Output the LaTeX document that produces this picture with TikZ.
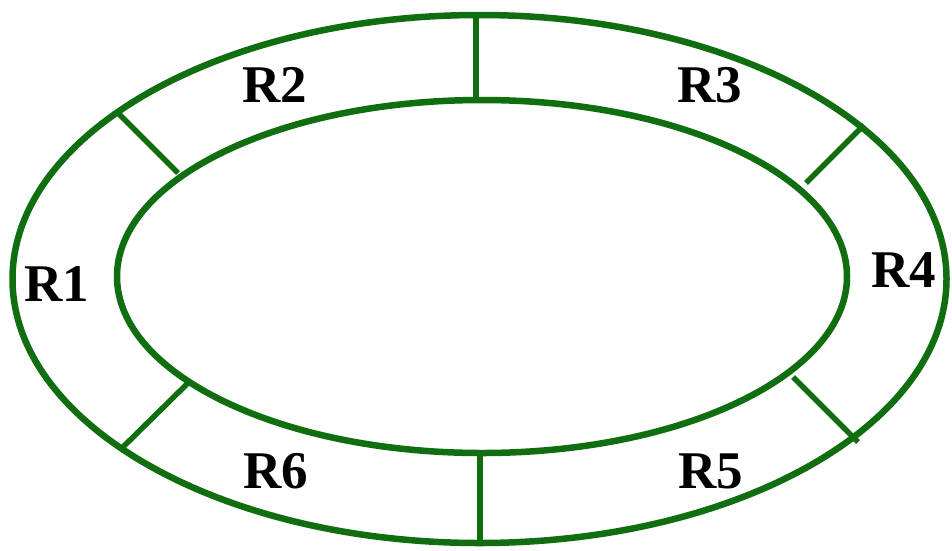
\documentclass[tikz,border=0pt]{standalone}
\usepackage{fontspec}
\setmainfont{Liberation Serif}
\definecolor{ringgreen}{RGB}{16,110,16}
\begin{document}
\begin{tikzpicture}[x=1pt,y=-1pt,
  ring/.style={draw=ringgreen,line width=6.5pt},
  spoke/.style={draw=ringgreen,line width=5.5pt},
  lbl/.style={font=\fontsize{53}{53}\selectfont\bfseries,inner sep=0pt}]
\useasboundingbox[fill=white] (0,0) rectangle (952,550);
% rings
\draw[ring] (479.5,279) ellipse [x radius=467,y radius=264];
\draw[ring] (482,276.5) ellipse [x radius=365,y radius=176.5];
% spokes
\coordinate (o1) at (476,15);   \coordinate (i1) at (476,100);
\coordinate (o2) at (864,125);  \coordinate (i2) at (806,183);
\coordinate (o3) at (858,442);  \coordinate (i3) at (793,377);
\coordinate (o4) at (480,543);  \coordinate (i4) at (480,453);
\coordinate (o5) at (122,448);  \coordinate (i5) at (188,383);
\coordinate (o6) at (118,113);  \coordinate (i6) at (178,173);
\foreach \k in {1,...,6} \draw[spoke] (o\k) -- (i\k);
% labels
\node[lbl] (r1) at (57,284) {R1};
\node[lbl] (r2) at (275,85) {R2};
\node[lbl] (r3) at (710,85) {R3};
\node[lbl] (r4) at (904,270) {R4};
\node[lbl] (r5) at (711,471) {R5};
\node[lbl] (r6) at (276,471) {R6};
\end{tikzpicture}
\end{document}
